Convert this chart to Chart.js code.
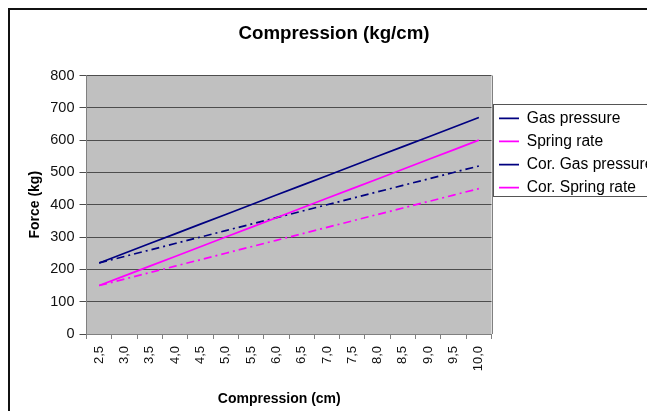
<!DOCTYPE html>
<html><head><meta charset="utf-8">
<script src="https://cdn.jsdelivr.net/npm/chart.js@4.4.1/dist/chart.umd.min.js"></script>
<style>
html,body{margin:0;padding:0;background:#fff;overflow:hidden;width:647px;height:411px;}
#wrap{position:absolute;left:0;top:0;width:675px;height:420px;}
</style></head><body>
<div id="wrap"><canvas id="c" width="675" height="420"></canvas></div>
<script>
const categories = ['2,5','3,0','3,5','4,0','4,5','5,0','5,5','6,0','6,5','7,0','7,5','8,0','8,5','9,0','9,5','10,0'];
const gasPressure = [220,250,280,310,340,370,400,430,460,490,520,550,580,610,640,670];
const springRate = [150,180,210,240,270,300,330,360,390,420,450,480,510,540,570,600];
const corGasPressure = [220,240,260,280,300,320,340,360,380,400,420,440,460,480,500,520];
const corSpringRate = [150,170,190,210,230,250,270,290,310,330,350,370,390,410,430,450];
const seriesNames = ['Gas pressure','Spring rate','Cor. Gas pressure','Cor. Spring rate'];
const yTicks = [0,100,200,300,400,500,600,700,800];

const NAVY = '#000080', MAG = '#ff00ff';
const DASHDOT = [8,4,2,4];
Chart.defaults.font.family = "'Liberation Sans', Arial, sans-serif";
Chart.defaults.color = '#111';

const LEG_TITLE_H = 27.5, LEG_PAD = 7.5, LEG_FONT = 15.6;

const framePlugin = {
  id: 'frame',
  beforeDraw(chart) {
    const {ctx, chartArea: a} = chart;
    ctx.save();
    ctx.fillStyle = '#fff';
    ctx.fillRect(0, 0, chart.width, chart.height);
    ctx.strokeStyle = '#111';
    ctx.lineWidth = 2;
    ctx.strokeRect(9, 9, chart.width + 20, chart.height + 20);
    ctx.fillStyle = '#c0c0c0';
    ctx.fillRect(a.left, a.top, a.right - a.left, a.bottom - a.top);
    ctx.strokeStyle = '#808080';
    ctx.lineWidth = 1;
    ctx.beginPath();
    ctx.moveTo(Math.round(a.right) + 0.5, a.top);
    ctx.lineTo(Math.round(a.right) + 0.5, a.bottom);
    ctx.stroke();
    const lg = chart.legend;
    const rowTop = lg.top + LEG_TITLE_H + LEG_PAD;
    const n = seriesNames.length;
    const boxTop = rowTop - 6.5;
    const boxBottom = rowTop + n * (LEG_FONT + LEG_PAD) - LEG_PAD + 1;
    ctx.fillStyle = '#fff';
    ctx.strokeStyle = '#555';
    ctx.fillRect(lg.left + 1.5, boxTop, chart.width, boxBottom - boxTop);
    ctx.strokeRect(Math.round(lg.left) + 1.5, Math.round(boxTop) + 0.5, chart.width, Math.round(boxBottom - boxTop));
    ctx.restore();
  }
};

new Chart(document.getElementById('c'), {
  type: 'line',
  data: {
    labels: categories,
    datasets: [
      {label: seriesNames[0], data: gasPressure, borderColor: NAVY, backgroundColor: NAVY, borderWidth: 1.7, pointRadius: 0, tension: 0},
      {label: seriesNames[1], data: springRate, borderColor: MAG, backgroundColor: MAG, borderWidth: 1.7, pointRadius: 0, tension: 0},
      {label: seriesNames[2], data: corGasPressure, borderColor: NAVY, backgroundColor: NAVY, borderWidth: 1.7, borderDash: DASHDOT, pointRadius: 0, tension: 0},
      {label: seriesNames[3], data: corSpringRate, borderColor: MAG, backgroundColor: MAG, borderWidth: 1.7, borderDash: DASHDOT, pointRadius: 0, tension: 0}
    ]
  },
  options: {
    responsive: false,
    animation: false,
    devicePixelRatio: 1,
    events: [],
    layout: {padding: {left: 19, right: 26, top: 0, bottom: 0}},
    plugins: {
      title: {
        display: true,
        text: 'Compression (kg/cm)',
        color: '#000',
        font: {size: 18.7, weight: 'bold'},
        padding: {top: 22.5, bottom: 30.6}
      },
      legend: {
        display: true,
        position: 'right',
        align: 'start',
        fullSize: false,
        title: {display: true, text: '', font: {size: 12, lineHeight: 1}, padding: {top: 0, bottom: LEG_TITLE_H - 12}},
        labels: {
          usePointStyle: true,
          pointStyle: 'line',
          pointStyleWidth: 20,
          padding: LEG_PAD,
          color: '#000',
          font: {size: LEG_FONT}
        }
      },
      tooltip: {enabled: false}
    },
    scales: {
      x: {
        type: 'category',
        offset: true,
        afterFit: s => { s.height = 86; },
        border: {display: true, color: '#808080', width: 1},
        grid: {display: true, drawOnChartArea: false, drawTicks: true, tickLength: 5, offset: true, color: '#808080'},
        ticks: {autoSkip: false, maxRotation: 90, minRotation: 90, padding: 7, color: '#111', font: {size: 13}},
        title: {display: true, text: 'Compression (cm)     ', color: '#000', font: {size: 14, weight: 'bold'}, padding: {top: 4, bottom: 12.6}}
      },
      y: {
        min: 0, max: 800,
        afterFit: s => { s.width = 67.5; },
        afterBuildTicks: s => { s.ticks = yTicks.map(v => ({value: v})); },
        border: {display: true, color: '#808080', width: 1},
        grid: {color: '#4d4d4d', lineWidth: 1, drawTicks: true, tickLength: 7},
        ticks: {padding: 5, color: '#111', font: {size: 14.5}},
        title: {display: true, text: 'Force (kg)', color: '#000', font: {size: 14, weight: 'bold'}, padding: {top: 7.6, bottom: 0}}
      }
    }
  },
  plugins: [framePlugin]
});
</script>
</body></html>
